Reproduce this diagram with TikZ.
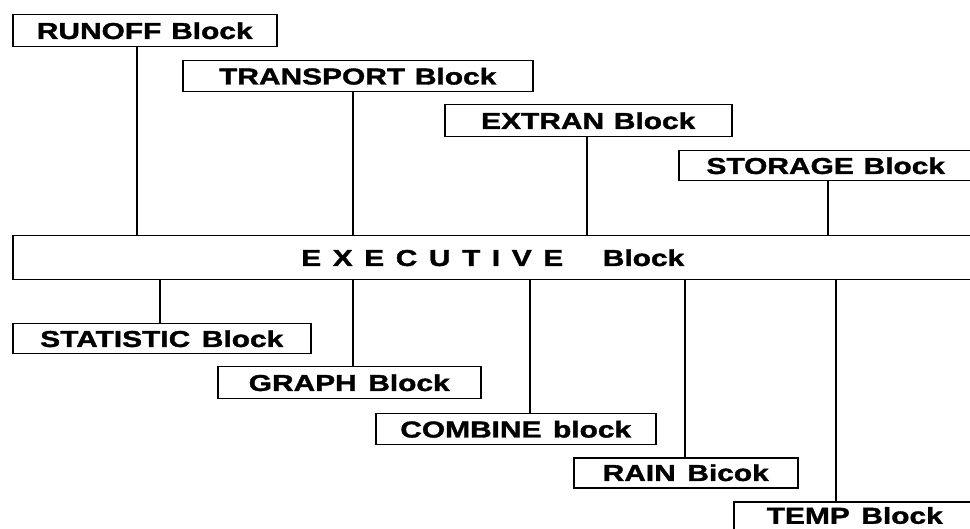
\documentclass[tikz,border=0pt]{standalone}
\usepackage{fontspec}
\usepackage{tikz}
\usetikzlibrary{positioning}
\newfontfamily\blkfont[FakeStretch=1.3,BoldFeatures={FakeBold=1.5}]{Liberation Sans}
\newfontfamily\execfont[FakeStretch=1.3,WordSpace=1.18,BoldFeatures={FakeBold=1.5}]{Liberation Sans}

\begin{document}
\begin{tikzpicture}[
  x=1pt, y=-1pt,
  every node/.style={rectangle, draw, line width=1.5pt, inner sep=0pt, anchor=north west,
    font=\blkfont\bfseries\fontsize{23}{27}\selectfont},
  every path/.style={line width=1.6pt},
]
\useasboundingbox (0,0) rectangle (970,529);

%% Upper blocks
\node (runoff)    [minimum width=264pt, minimum height=32pt] at (12,14)   {RUNOFF Block};
\node (transport) [minimum width=350pt, minimum height=31pt] at (182,60)  {TRANSPORT Block};
\node (extran)    [minimum width=287pt, minimum height=32pt] at (444,104) {EXTRAN Block};
\node (storage)   [minimum width=294pt, minimum height=30pt] at (678,150) {STORAGE Block};

%% Main block
\node (exec) [minimum width=960pt, minimum height=44pt,
  font=\execfont\bfseries\fontsize{23}{27}\selectfont] at (12,235)
  {E X E C U T I V E \hspace{28pt}Block};

%% Lower blocks
\node (statistic) [minimum width=298pt, minimum height=30pt] at (12,323)  {STATISTIC Block};
\node (graph)     [minimum width=263pt, minimum height=32pt] at (217,366) {GRAPH Block};
\node (combine)   [minimum width=280pt, minimum height=31pt] at (375,413) {COMBINE block};
\node (rain)      [minimum width=224pt, minimum height=30pt] at (573,457) {RAIN Bicok};
\node (temp)      [minimum width=242pt, text height=22pt, text depth=20pt] at (733,501) {TEMP Block};

\draw (runoff.south -| 137,0)    to (exec.north -| 137,0);
\draw (transport.south -| 353,0) to (exec.north -| 353,0);
\draw (extran.south -| 587,0)    to (exec.north -| 587,0);
\draw (storage.south -| 828,0)   to (exec.north -| 828,0);

\draw (exec.south -| 160,0) to (statistic.north -| 160,0);
\draw (exec.south -| 353,0) to (graph.north -| 353,0);
\draw (exec.south -| 530,0) to (combine.north -| 530,0);
\draw (exec.south -| 685,0) to (rain.north -| 685,0);
\draw (exec.south -| 836,0) to (temp.north -| 836,0);

\end{tikzpicture}
\end{document}
